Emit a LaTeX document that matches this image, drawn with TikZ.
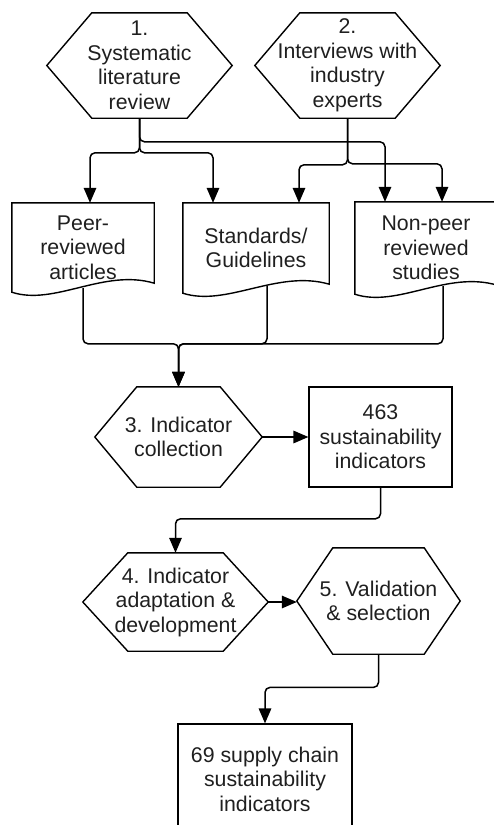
\documentclass[tikz,border=0pt]{standalone}
\usepackage{fontspec}
\setmainfont{Liberation Sans}
\usetikzlibrary{arrows.meta}

% hexagon outline around a (borderless) node; #2 = inset of the top/bottom edges
\newcommand\drawhex[2]{%
  \draw[shapeline] (#1.west) -- ([xshift=#2]#1.north west) -- ([xshift=-#2]#1.north east)
    -- (#1.east) -- ([xshift=-#2]#1.south east) -- ([xshift=#2]#1.south west) -- cycle;}

% document shape (wavy bottom edge) around a node; #2 = node width
\newcommand\drawdoc[2]{%
  \draw[shapeline] (#1.south west) -- (#1.north west) -- (#1.north east)
    -- ([yshift=9pt]#1.south east)
    .. controls ([xshift=0.65*#2pt,yshift=24pt]#1.south west)
            and ([xshift=0.3*#2pt,yshift=-14pt]#1.south west) .. (#1.south west) -- cycle;}

\begin{document}
\begin{tikzpicture}[x=1pt,y=-1pt,
  shapeline/.style={draw=black, line width=1.4pt, line join=miter},
  txt/.style={inner sep=0pt, align=center, text=black!88,
              font=\fontsize{21.3}{24.5}\selectfont},
  conn/.style={draw=black, line width=1.5pt, rounded corners=5pt,
               -{Triangle[length=15pt,width=12.5pt]}}]

\useasboundingbox (0,0) rectangle (493,825);

% ---- sources ----
\node[txt, minimum width=185pt, minimum height=105pt] (h1) at (139.5,65.5)
  {1.\\Systematic\\literature\\review};
\drawhex{h1}{45pt}
\node[txt, minimum width=185pt, minimum height=105pt] (h2) at (347.5,65.5)
  {2.\\Interviews with\\industry\\experts};
\drawhex{h2}{45pt}

% ---- literature types ----
\node[txt, minimum width=142pt, minimum height=89pt] (doc1) at (83,247.5)
  {Peer-\\reviewed\\articles};
\drawdoc{doc1}{142}
\node[txt, minimum width=146pt, minimum height=90pt] (doc2) at (256,248)
  {Standards/\\Guidelines};
\drawdoc{doc2}{146}
\node[txt, minimum width=142pt, minimum height=92pt] (doc3) at (426,248)
  {Non-peer\\reviewed\\studies};
\drawdoc{doc3}{142}

% ---- process steps ----
\node[txt, minimum width=167pt, minimum height=100pt] (h3) at (178.5,437)
  {3. Indicator\\collection};
\drawhex{h3}{42pt}
\node[txt, shapeline, line width=1.2pt, minimum width=143pt, minimum height=100pt] (b463) at (380.5,437)
  {463\\sustainability\\indicators};

\node[txt, minimum width=185pt, minimum height=98pt] (h4) at (175.5,602)
  {4. Indicator\\adaptation \&\\development};
\drawhex{h4}{45pt}
\node[txt, minimum width=163pt, minimum height=106pt] (h5) at (378.5,601)
  {5. Validation\\\& selection};
\drawhex{h5}{36pt}

\node[txt, shapeline, line width=1.2pt, minimum width=174pt, minimum height=110pt] (b69) at (265,779)
  {69 supply chain\\sustainability\\indicators};

% ---- connectors: sources to literature types ----
\draw[conn] (h1.south) |- ([xshift=7pt,yshift=50pt]doc1.north) -- ([xshift=7pt]doc1.north);
\draw[conn] (h1.south) |- ([xshift=-43pt,yshift=50pt]doc2.north) -- ([xshift=-43pt]doc2.north);
\draw[conn] (h1.south) |- ([xshift=-41pt,yshift=60pt]doc3.north) -- ([xshift=-41pt]doc3.north);
\draw[conn] (h2.south) |- ([xshift=43pt,yshift=38pt]doc2.north) -- ([xshift=43pt]doc2.north);
\draw[conn] (h2.south) |- ([xshift=16pt,yshift=38pt]doc3.north) -- ([xshift=16pt]doc3.north);

% ---- literature types merge into indicator collection ----
\draw[conn] ([yshift=4pt]doc1.south) |- ([yshift=43pt]h3.north) -- (h3.north);
\draw[conn] ([xshift=11pt,yshift=7pt]doc2.south) |- ([yshift=43pt]h3.north) -- (h3.north);
\draw[conn] ([xshift=17pt,yshift=8pt]doc3.south) |- ([yshift=43pt]h3.north) -- (h3.north);

% ---- main flow ----
\draw[conn] (h3.east) -- (b463.west);
\draw[conn] (b463.south) |- ([yshift=34pt]h4.north) -- (h4.north);
\draw[conn] (h4.east) -- (h4.east -| h5.west);
\draw[conn] (h5.south) |- ([yshift=36pt]b69.north) -- (b69.north);

\end{tikzpicture}
\end{document}
